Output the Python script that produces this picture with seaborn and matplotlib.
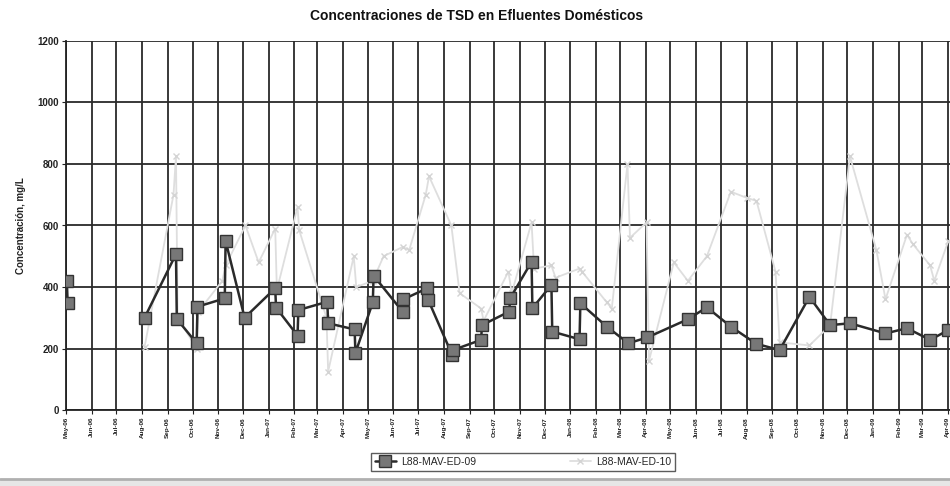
import numpy as np
import pandas as pd
import matplotlib
matplotlib.use("Agg")
import matplotlib.pyplot as plt
import matplotlib.dates as mdates
import seaborn as sns

# ---------------- data ----------------
titulo = "Concentraciones de TSD en Efluentes Domésticos"
etiqueta_y = "Concentración, mg/L"
serie_09 = "L88-MAV-ED-09"
serie_10 = "L88-MAV-ED-10"

fechas_09 = ["2006-05-02", "2006-05-03",
             "2006-08-04", "2006-09-11", "2006-09-12", "2006-10-06", "2006-10-07",
             "2006-11-09", "2006-11-10", "2006-12-03", "2007-01-09", "2007-01-10",
             "2007-02-05", "2007-02-06", "2007-03-13", "2007-03-14", "2007-04-15",
             "2007-04-16", "2007-05-07", "2007-05-08", "2007-06-12", "2007-06-13",
             "2007-07-12", "2007-07-13", "2007-08-11", "2007-08-12", "2007-09-15",
             "2007-09-16", "2007-10-19", "2007-10-20", "2007-11-15", "2007-11-16",
             "2007-12-09", "2007-12-10", "2008-01-12", "2008-01-13", "2008-02-14",
             "2008-03-11", "2008-04-03", "2008-05-22", "2008-06-14", "2008-07-13",
             "2008-08-13", "2008-09-10", "2008-10-16", "2008-11-10", "2008-12-04",
             "2009-01-16", "2009-02-11", "2009-03-11", "2009-04-02"]
valores_09 = [420, 347,
              300, 507, 296, 217, 336,
              363, 550, 300, 396, 333,
              242, 325, 352, 282, 262,
              186, 350, 437, 320, 360,
              396, 358, 179, 195, 228,
              276, 320, 363, 482, 331,
              407, 255, 230, 347, 271,
              217, 236, 295, 334, 271,
              215, 195, 368, 276, 282,
              249, 266, 228, 260]
# sampling campaign (line is broken between campaigns)
campana_09 = [1, 1] + [2] * 49

fechas_10 = ["2006-08-04", "2006-09-08", "2006-09-11", "2006-09-13", "2006-10-06",
             "2006-10-08", "2006-11-06", "2006-11-10", "2006-12-04", "2006-12-20",
             "2007-01-09", "2007-01-11", "2007-02-05", "2007-02-07", "2007-03-12",
             "2007-03-14", "2007-04-14", "2007-04-17", "2007-05-07", "2007-05-20",
             "2007-06-12", "2007-06-20", "2007-07-10", "2007-07-14", "2007-08-10",
             "2007-08-20", "2007-09-15", "2007-09-18", "2007-10-18", "2007-10-22",
             "2007-11-15", "2007-11-18", "2007-12-09", "2007-12-14", "2008-01-12",
             "2008-01-15", "2008-02-14", "2008-02-20", "2008-03-10", "2008-03-13",
             "2008-04-02", "2008-04-05", "2008-05-05", "2008-05-22", "2008-06-14",
             "2008-07-13", "2008-08-01", "2008-08-13", "2008-09-05", "2008-09-10",
             "2008-10-16", "2008-11-10", "2008-12-04", "2009-01-05", "2009-01-16",
             "2009-02-11", "2009-02-18", "2009-03-11", "2009-03-16", "2009-04-02"]
valores_10 = [205, 700, 825, 300, 200,
              320, 420, 470, 600, 480,
              590, 390, 660, 585, 300,
              125, 500, 400, 420, 500,
              530, 520, 700, 760, 600,
              380, 330, 290, 450, 380,
              610, 460, 470, 430, 460,
              450, 350, 330, 800, 560,
              610, 160, 480, 420, 500,
              710, 690, 680, 450, 220,
              210, 275, 825, 520, 360,
              570, 540, 470, 420, 550]

y_ticks = [0, 200, 400, 600, 800, 1000, 1200]

df09 = pd.DataFrame({"fecha": pd.to_datetime(fechas_09), "valor": valores_09,
                     "campana": campana_09})
df10 = pd.DataFrame({"fecha": pd.to_datetime(fechas_10), "valor": valores_10})

# ---------------- plot ----------------
sns.set_theme(style="white")
plt.rcParams["font.family"] = ["Liberation Sans", "DejaVu Sans"]

fig = plt.figure(figsize=(9.5, 4.86), dpi=100)
ax = fig.add_axes([66 / 950, 1 - 410 / 486, (950 - 66) / 950, (410 - 41) / 486])

sns.lineplot(data=df10, x="fecha", y="valor", ax=ax, color="#dedede",
             linewidth=1.3, marker="x", markersize=5, markeredgewidth=1.0,
             markeredgecolor="#d4d4d4", label=serie_10, zorder=3)
sns.lineplot(data=df09, x="fecha", y="valor", units="campana", estimator=None,
             ax=ax, color="#2a2a2a", linewidth=1.8, marker="s", markersize=8,
             markerfacecolor="#777777", markeredgecolor="#333333",
             markeredgewidth=1.0, label=serie_09, zorder=4)

ax.set_xlim(pd.Timestamp("2006-05-01"), pd.Timestamp("2009-04-04"))
ax.set_ylim(0, 1200)
ax.set_yticks(y_ticks)
ax.xaxis.set_major_locator(mdates.MonthLocator())
ax.xaxis.set_major_formatter(mdates.DateFormatter("%b-%y"))
ax.tick_params(axis="x", labelsize=4.6, rotation=90, length=3, width=0.8,
               direction="out", pad=2, colors="#222222", bottom=True)
ax.tick_params(axis="y", labelsize=7, length=3, width=0.8, direction="out",
               pad=2, colors="#222222", left=True)
for lbl in ax.get_yticklabels() + ax.get_xticklabels():
    lbl.set_fontweight("bold")

ax.grid(True, color="#2a2a2a", linewidth=1.3)
ax.set_axisbelow(True)
for s in ["top", "right"]:
    ax.spines[s].set_visible(False)
for s in ["left", "bottom"]:
    ax.spines[s].set_color("#222222")
    ax.spines[s].set_linewidth(1.3)

ax.set_xlabel("")
ax.set_ylabel(etiqueta_y, fontsize=7, fontweight="bold", color="#222222", labelpad=8)

fig.text(477 / 950, 1 - 16 / 486, titulo, ha="center", va="center",
         fontsize=10, fontweight="bold", color="#111111")

# legend (deduplicated, series 09 first)
handles, labels = ax.get_legend_handles_labels()
uniq = {}
for h, l in zip(handles, labels):
    if l not in uniq:
        uniq[l] = h
if ax.legend_:
    ax.legend_.remove()
order = [serie_09, serie_10]
leg = fig.legend([uniq[l] for l in order], order, loc="center",
                 bbox_to_anchor=(523 / 950, 1 - 462 / 486), ncol=2,
                 fontsize=7.5, frameon=True, fancybox=False, edgecolor="#333333",
                 handlelength=2.0, columnspacing=9, borderpad=0.35,
                 handletextpad=0.5, borderaxespad=0)
leg.get_frame().set_linewidth(1.0)

# scanner edge at the bottom
fig.add_artist(plt.Line2D([0, 1], [1 - 479 / 486, 1 - 479 / 486],
                          transform=fig.transFigure, color="#b0b0b0", lw=2))
fig.patches.append(plt.Rectangle((0, 0), 1, 6 / 486, transform=fig.transFigure,
                                 facecolor="#e6e6e6", edgecolor="none"))

fig.savefig("out.png", dpi=100, facecolor="white")
